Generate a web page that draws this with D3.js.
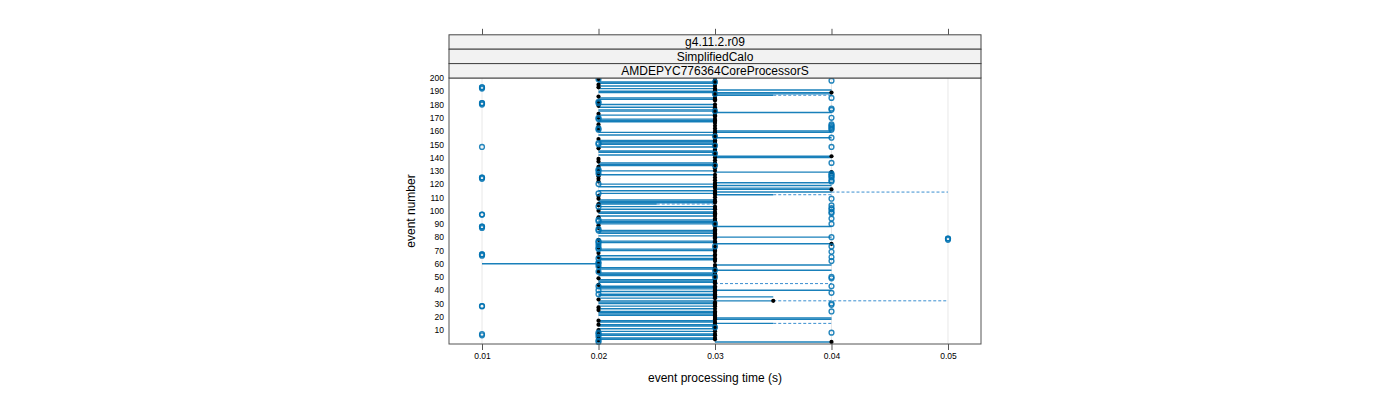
<!DOCTYPE html>
<html><head><meta charset="utf-8">
<script src="https://cdn.jsdelivr.net/npm/d3@7"></script>
<style>body{margin:0;background:#fff}svg{display:block;font-family:"Liberation Sans",Arial,sans-serif}</style>
</head><body><svg id="c" width="1400" height="400"></svg>
<script>
// ---- data (times in milliseconds, events 1..200 in order) ----
const stripLabels = ["g4.11.2.r09", "SimplifiedCalo", "AMDEPYC776364CoreProcessorS"];
const xTicks = [0.01, 0.02, 0.03, 0.04, 0.05];
const xTickLabels = ["0.01", "0.02", "0.03", "0.04", "0.05"];
const yTicks = [10,20,30,40,50,60,70,80,90,100,110,120,130,140,150,160,170,180,190,200];
const yTickLabels = yTicks.map(String);
const xTitle = "event processing time (s)";
const yTitle = "event number";
// solid segment start / solid end (dashed start) / dashed end / median per event
const segLo = [
 30,20,20,20,20,20,20,20,20,20, 20,30,20,20,30,20,20,30,30,30,
 20,20,20,20,20,20,20,20,30,20, 20,20,20,20,30,20,20,30,20,30,
 20,20,20,20,30,20,20,20,20,30, 20,20,20,20,30,20,20,20,30,10,
 20,30,20,20,20,20,30,20,30,20, 20,20,30,20,30,20,20,20,30,30,
 20,30,20,20,20,30,20,30,20,20, 20,20,20,30,20,20,30,20,20,20,
 20,30,20,20,20,20,20,20,20,30, 20,30,20,30,20,30,30,20,30,20,
 30,20,30,20,30,20,20,20,30,20, 20,30,20,20,20,20,20,30,20,30,
 30,20,30,20,20,30,20,20,30,20, 20,20,20,20,30,30,20,30,20,30,
 20,30,20,30,20,30,20,20,20,20, 30,20,20,30,20,20,30,20,20,20,
 20,20,30,20,20,20,30,30,20,20, 30,20,20,20,20,20,20,30,20,30 ];
const segMid = [
 40,20,30,30,20,30,30,20,30,20, 30,30,30,30,35,30,30,40,40,30,
 30,30,30,30,20,30,20,30,30,30, 30,35,20,30,35,30,30,30,30,40,
 30,30,30,20,30,30,30,30,20,30, 30,30,30,20,40,30,30,20,40,20,
 20,30,30,30,20,30,30,20,30,30, 30,20,30,20,40,30,30,20,30,40,
 30,30,30,30,30,30,20,40,20,30, 30,30,30,30,20,30,30,30,30,20,
 30,30,30,20,25,30,30,30,20,30, 20,35,30,40,30,40,40,30,40,30,
 40,20,30,20,30,20,30,20,40,30, 20,30,20,30,30,30,20,30,20,40,
 40,30,30,30,30,30,20,30,30,30, 30,30,30,20,40,30,30,30,40,40,
 20,30,20,30,20,30,30,30,30,20, 30,30,20,40,30,30,30,30,20,30,
 20,20,30,30,30,20,35,40,40,30, 40,30,20,30,20,30,30,30,20,30 ];
const segHi = [
 40,20,30,30,20,30,30,20,30,20, 30,30,30,30,40,30,30,40,40,30,
 30,30,30,30,20,30,20,30,30,30, 30,50,20,30,35,30,30,30,30,40,
 30,30,30,20,40,30,30,30,20,30, 30,30,30,20,40,30,30,20,40,20,
 20,30,30,30,20,30,30,20,30,30, 30,20,30,20,40,30,30,20,30,40,
 30,30,30,30,30,30,20,40,20,30, 30,30,30,30,20,30,30,30,30,20,
 30,30,30,20,30,30,30,30,20,30, 20,40,30,50,30,40,40,30,40,30,
 40,20,30,20,30,20,30,20,40,30, 20,30,20,30,30,30,20,30,20,40,
 40,30,30,30,30,30,20,30,30,30, 30,30,30,20,40,30,30,30,40,40,
 20,30,20,30,20,30,30,30,30,20, 30,30,20,40,30,30,30,30,20,30,
 20,20,30,30,30,20,40,40,40,30, 40,30,20,30,20,30,30,30,20,30 ];
const medianMs = [
 40,20,30,30,20,30,30,20,30,20, 30,30,30,20,30,30,20,30,30,30,
 30,30,30,30,20,30,20,30,30,30, 30,35,20,30,30,30,30,30,30,30,
 30,30,30,20,30,30,30,30,20,30, 30,30,30,20,30,30,30,20,30,20,
 20,30,30,30,20,30,30,20,30,30, 30,20,30,20,40,30,30,20,30,30,
 30,30,30,30,30,30,20,30,20,30, 30,30,30,30,20,30,30,30,30,20,
 30,30,30,20,20,30,30,30,20,30, 20,30,30,30,30,40,30,30,30,30,
 30,20,30,20,30,20,30,20,40,30, 20,30,20,30,30,30,20,30,20,30,
 40,30,30,30,30,30,20,30,30,30, 30,30,30,20,30,30,30,30,30,30,
 20,30,20,30,20,30,30,30,30,20, 30,30,20,30,30,30,30,30,20,30,
 20,20,30,30,30,20,30,30,40,30, 30,30,20,30,20,30,30,30,20,30 ];
// individual measurements shown as open circles: [event, ms]
const circlePts = [
 [193,10],[193,10],[192,10],[181,10],[181,10],[180,10],[148,10],[125,10],[125,10],[124,10],
 [97,10],[97,10],[88,10],[88,10],[87,10],[67,10],[67,10],[66,10],[28,10],[28,10],[7,10],[6,10],
 [79,50],[79,50],[78,50],
 [198,40],[185,40],[177,40],[176,40],[170,40],[165,40],[164,40],[163,40],[162,40],[161,40],
 [155,40],[148,40],[136,40],[128,40],[127,40],[126,40],[125,40],[123,40],[122,40],[109,40],
 [104,40],[102,40],[101,40],[99,40],[98,40],[94,40],[90,40],[80,40],[73,40],[69,40],
 [65,40],[62,40],[50,40],[49,40],[43,40],[38,40],[30,40],[29,40],[24,40],[8,40],
 [199,20],[182,20],[181,20],[170,20],[169,20],[162,20],[161,20],[151,20],[150,20],[131,20],
 [130,20],[128,20],[120,20],[113,20],[103,20],[93,20],[92,20],[86,20],[85,20],[77,20],
 [76,20],[74,20],[72,20],[71,20],[64,20],[61,20],[60,20],[58,20],[54,20],[43,20],
 [40,20],[37,20],[8,20],[7,20],[5,20],[2,20],[1,20],
 [197,30],[188,30],[175,30],[156,30],[149,30],[143,30],[134,30],[90,30],[73,30],[55,30],[50,30],[12,30]
];

// ---- drawing ----
const svg = d3.select("#c");
const P = {l:449, r:981, t:78, b:344};
const x = d3.scaleLinear().domain([0.007167, 0.052833]).range([P.l, P.r]);
const y = d3.scaleLinear().domain([-0.55, 200]).range([P.b, P.t]);
const ms = v => v / 1000;
const blue = "#0072b2";

const rows = segLo.map((lo, i) => ({ev: i + 1, lo, mid: segMid[i], hi: segHi[i], med: medianMs[i]}));

// grid
svg.append("g").selectAll("line").data(xTicks).join("line")
  .attr("x1", d => x(d)).attr("x2", d => x(d)).attr("y1", P.t).attr("y2", P.b)
  .attr("stroke", "#e8e8e8").attr("stroke-width", 1);

const g = svg.append("g");
// solid segments
g.selectAll("line.s").data(rows.filter(d => d.mid > d.lo)).join("line").attr("class", "s")
  .attr("x1", d => x(ms(d.lo))).attr("x2", d => x(ms(d.mid)))
  .attr("y1", d => y(d.ev)).attr("y2", d => y(d.ev))
  .attr("stroke", blue).attr("stroke-width", 1.4).attr("stroke-opacity", 0.9);
// dashed segments
g.selectAll("line.d").data(rows.filter(d => d.hi > d.mid)).join("line").attr("class", "d")
  .attr("x1", d => x(ms(d.mid))).attr("x2", d => x(ms(d.hi)))
  .attr("y1", d => y(d.ev)).attr("y2", d => y(d.ev))
  .attr("stroke", "#3a8fd0").attr("stroke-width", 1).attr("stroke-dasharray", "3,2");
// medians
g.selectAll("circle.m").data(rows).join("circle").attr("class", "m")
  .attr("cx", d => x(ms(d.med))).attr("cy", d => y(d.ev)).attr("r", 2.1).attr("fill", "#000");
// measurements
g.selectAll("circle.p").data(circlePts).join("circle").attr("class", "p")
  .attr("cx", d => x(ms(d[1]))).attr("cy", d => y(d[0])).attr("r", 2.4)
  .attr("fill", "none").attr("stroke", blue).attr("stroke-width", 1.4).attr("stroke-opacity", 0.85);

// panel border
svg.append("rect").attr("x", P.l).attr("y", P.t).attr("width", P.r - P.l).attr("height", P.b - P.t)
  .attr("fill", "none").attr("stroke", "#555").attr("stroke-width", 1);

// strips
const stripH = 14.4;
stripLabels.forEach((s, i) => {
  const y0 = P.t - stripH * (stripLabels.length - i);
  svg.append("rect").attr("x", P.l).attr("y", y0).attr("width", P.r - P.l).attr("height", stripH)
    .attr("fill", "#f2f2f2").attr("stroke", "#444").attr("stroke-width", 1);
  svg.append("text").attr("x", (P.l + P.r) / 2).attr("y", y0 + stripH / 2 + 4.2)
    .attr("text-anchor", "middle").attr("font-size", 12).attr("fill", "#000").text(s);
});
const stripTop = P.t - stripH * stripLabels.length;

// x axis bottom
const xb = d3.axisBottom(x).tickValues(xTicks).tickFormat((d, i) => xTickLabels[i]).tickSize(6).tickPadding(3);
const gx = svg.append("g").attr("transform", `translate(0,${P.b})`).call(xb);
gx.select(".domain").remove();
gx.selectAll("line").attr("stroke", "#555");
gx.selectAll("text").attr("font-size", 8.5).attr("fill", "#000").attr("font-family", "Liberation Sans, Arial, sans-serif");
// x axis top (ticks only)
const xt = d3.axisTop(x).tickValues(xTicks).tickFormat("").tickSize(6);
const gxt = svg.append("g").attr("transform", `translate(0,${stripTop})`).call(xt);
gxt.select(".domain").remove();
gxt.selectAll("line").attr("stroke", "#555");

// y axis labels
const yl = d3.axisLeft(y).tickValues(yTicks).tickFormat((d, i) => yTickLabels[i]).tickSize(0).tickPadding(5);
const gy = svg.append("g").attr("transform", `translate(${P.l},0)`).call(yl);
gy.select(".domain").remove();
gy.selectAll("text").attr("font-size", 8.5).attr("fill", "#000").attr("font-family", "Liberation Sans, Arial, sans-serif");

// titles
svg.append("text").attr("x", (P.l + P.r) / 2).attr("y", 382).attr("text-anchor", "middle")
  .attr("font-size", 12).text(xTitle);
svg.append("text").attr("transform", `translate(415,${(P.t + P.b) / 2}) rotate(-90)`)
  .attr("text-anchor", "middle").attr("font-size", 12).text(yTitle);
</script></body></html>
